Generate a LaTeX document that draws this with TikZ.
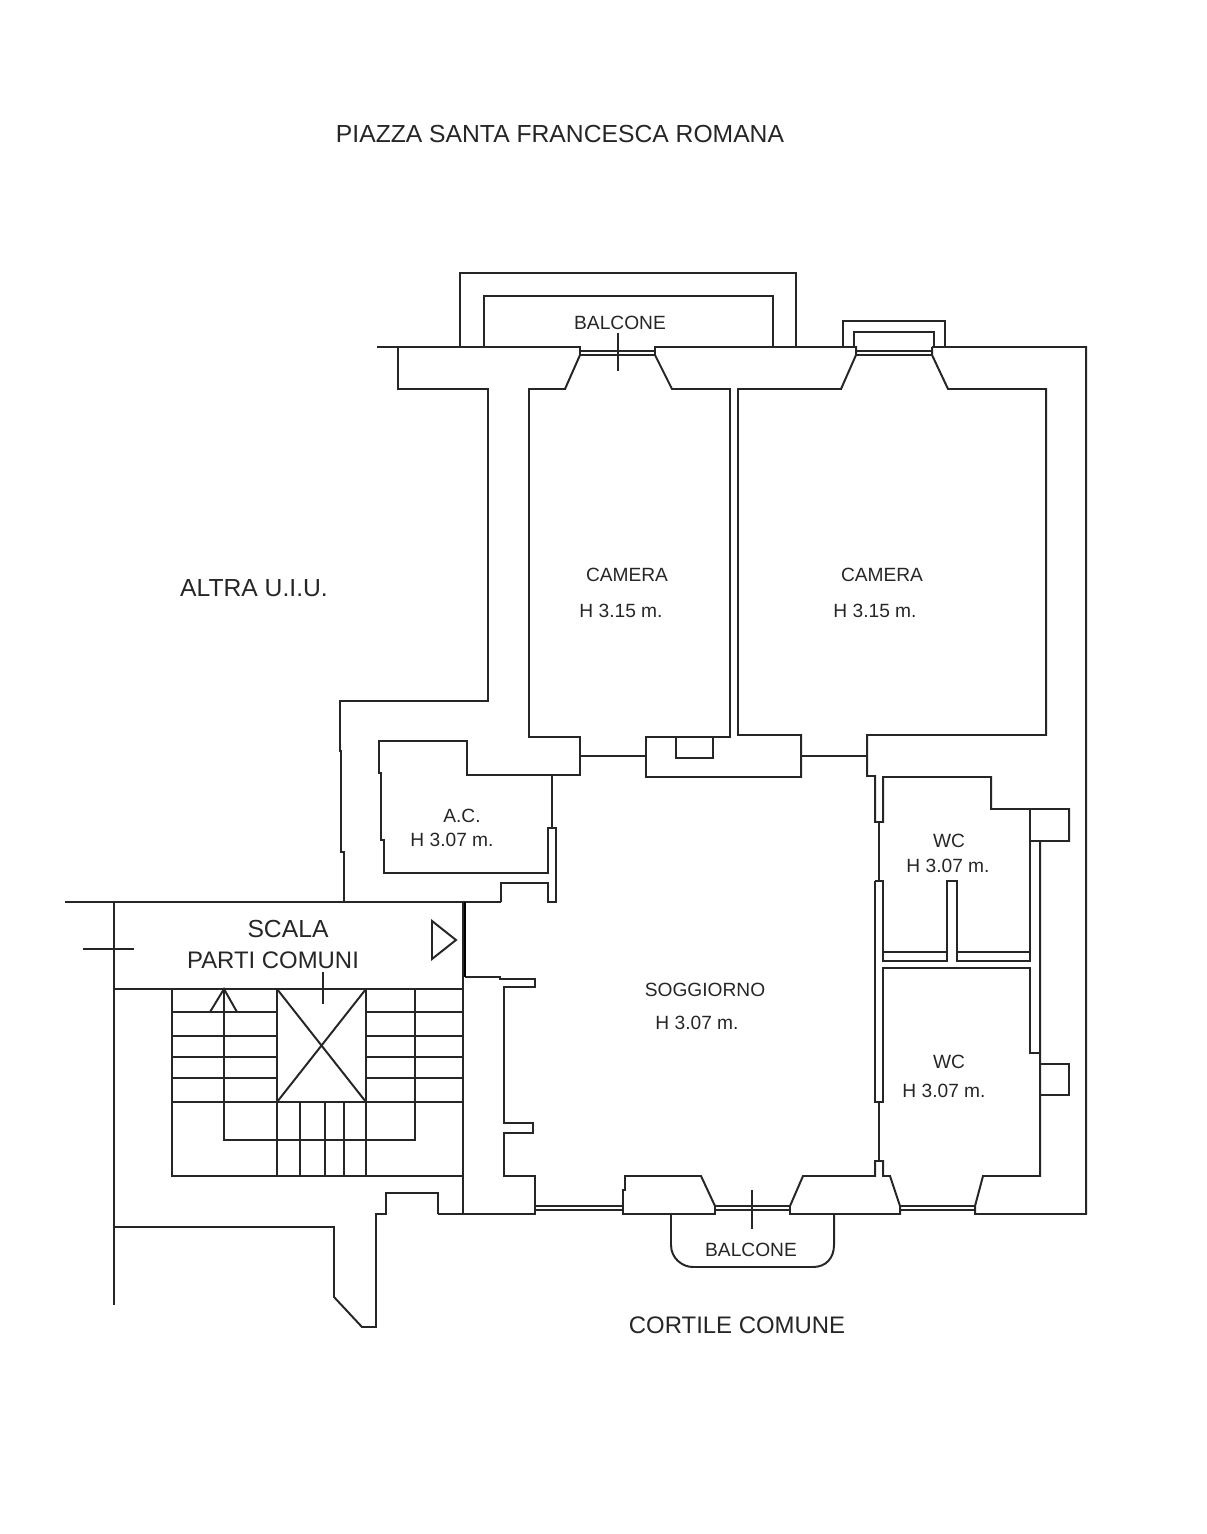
\documentclass[tikz,border=0pt]{standalone}
\usepackage{fontspec}
\setmainfont{Liberation Sans}
\tikzset{
    wall/.style={line width=0.56pt, color=black!85, line join=miter},
    bignote/.style={inner sep=0pt, color=black!85, font=\fontsize{7.02}{8}\selectfont},
    midnote/.style={inner sep=0pt, color=black!85, font=\fontsize{6.8}{8}\selectfont},
    smallnote/.style={inner sep=0pt, color=black!85, font=\fontsize{5.45}{7}\selectfont}
}
\begin{document}
\begin{tikzpicture}[x=0.01cm, y=-0.01cm]
    \useasboundingbox (0,0) rectangle (1206,1534);
    % facade and camera on the left
    \draw[wall] (377,347) -- (580,347) -- (580,355) -- (565,389) -- (529,389) -- (529,737) -- (580,737) -- (580,775) -- (467,775) -- (467,741) -- (379,741) -- (379,773) -- (381,773) -- (381,840) -- (384,840) -- (384,873) -- (548,873) -- (548,828) -- (556,828) -- (556,902) -- (548,902) -- (548,883) -- (501,883) -- (501,902);
    \draw[wall] (398,347) -- (398,389) -- (488,389) -- (488,701) -- (340,701) -- (340,751) -- (341,751) -- (341,852) -- (344,852) -- (344,902);
    \draw[wall] (655,347) -- (856,347) -- (856,355) -- (841,389) -- (738,389) -- (738,735) -- (801,735) -- (801,777) -- (646,777) -- (646,737) -- (730,737) -- (730,389) -- (672,389) -- (655,355) -- cycle; % camera on the right, wall between
    \draw[wall] (932,347) -- (932,355) -- (948,389) -- (1046,389) -- (1046,735) -- (867,735) -- (867,776) -- (875,776) -- (875,822) -- (883,822) -- (883,777) -- (991,777) -- (991,809) -- (1069,809) -- (1069,841) -- (1030,841);
    \draw[wall] (932,347) -- (1086,347) -- (1086,1214) -- (975,1214) -- (975,1206) -- (983,1176) -- (1040,1176) -- (1040,841); % outer wall
    \draw[wall] (676,737) -- (676,758) -- (713,758) -- (713,737); % niche
    \draw[wall] (580,756) -- (646,756); % door
    \draw[wall] (801,756) -- (867,756); % door
    \draw[wall] (552,775) -- (552,828);
    % windows
    \draw[wall] (580,351) -- (655,351) (580,355) -- (655,355);
    \draw[wall] (856,351) -- (932,351) (856,355) -- (932,355);
    \foreach \xa/\xb in {535/623, 715/790, 900/975}
        \draw[wall] (\xa,1206) -- (\xb,1206) (\xa,1210) -- (\xb,1210);
    % balconies
    \draw[wall] (460,347) -- (460,273) -- (796,273) -- (796,347);
    \draw[wall] (484,347) -- (484,296) -- (773,296) -- (773,347);
    \draw[wall] (843,347) -- (843,321) -- (945,321) -- (945,347);
    \draw[wall] (854,347) -- (854,332) -- (934,332) -- (934,347);
    \draw[wall] (618,333) -- (618,371);
    \draw[wall] (671,1214) -- (671,1245) .. controls (671,1258) and (682,1267) .. (693,1267) -- (813,1267) .. controls (826,1267) and (834,1258) .. (834,1245) -- (834,1214);
    \draw[wall] (752,1190) -- (752,1229);
    % wc
    \draw[wall] (879,822) -- (879,881);
    \draw[wall] (875,881) -- (883,881) -- (883,961) -- (947,961) -- (947,881) -- (957,881) -- (957,961) -- (1030,961) -- (1030,809);
    \draw[wall] (883,952) -- (947,952);
    \draw[wall] (957,952) -- (1030,952);
    \draw[wall] (875,881) -- (875,1102) -- (883,1102) -- (883,968) -- (1030,968) -- (1030,1053) -- (1040,1053);
    \draw[wall] (879,1102) -- (879,1161);
    \draw[wall] (790,1214) -- (790,1206) -- (803,1176) -- (875,1176) -- (875,1161) -- (883,1161) -- (883,1176) -- (890,1176) -- (900,1206) -- (900,1214) -- cycle;
    \draw[wall] (1040,1064) -- (1069,1064) -- (1069,1095) -- (1040,1095);
    % soggiorno
    \draw[wall] (465,977) -- (500,977) -- (500,979) -- (535,979) -- (535,987) -- (504,987) -- (504,1123) -- (533,1123) -- (533,1133) -- (504,1133) -- (504,1176) -- (535,1176) -- (535,1214) -- (438,1214);
    \draw[wall] (623,1214) -- (623,1190) -- (625,1190) -- (625,1176) -- (701,1176) -- (715,1206) -- (715,1214) -- cycle;
    % stairs
    \draw[wall] (65,902) -- (501,902);
    \draw[wall] (114,902) -- (114,1305);
    \draw[wall] (83,949) -- (134,949);
    \draw[line width=1pt, color=black] (464,902) -- (464,977);
    \draw[wall] (463,902) -- (463,1214);
    \draw[wall] (114,989) -- (463,989);
    \draw[wall] (172,989) -- (172,1176) -- (463,1176);
    \foreach \ystep in {1012, 1036, 1057, 1078, 1102} {
        \draw[wall] (172,\ystep) -- (277,\ystep);
        \draw[wall] (366,\ystep) -- (463,\ystep);
    }
    \draw[wall] (277,1102) -- (366,1102);
    \foreach \xstep in {277, 300, 325, 344, 366}
        \draw[wall] (\xstep,1102) -- (\xstep,1176);
    \draw[wall] (277,989) -- (277,1102) (366,989) -- (366,1102);
    \draw[wall] (277,989) -- (366,1102) (366,989) -- (277,1102);
    \draw[wall] (224,989) -- (224,1140) -- (415,1140) -- (415,989);
    \draw[wall] (210,1012) -- (224,989) -- (237,1012);
    \draw[wall] (323,972) -- (323,1004);
    \draw[wall] (432,921) -- (456,940) -- (432,959) -- cycle;
    \draw[wall] (114,1227) -- (334,1227) -- (334,1297) -- (362,1327) -- (376,1327) -- (376,1214) -- (386,1214) -- (386,1193) -- (438,1193) -- (438,1214);
    % labels
    \node[bignote] (piazza) at (560,134) {PIAZZA SANTA FRANCESCA ROMANA};
    \node[bignote] (altra) at (254,588) {ALTRA U.I.U.};
    \node[smallnote] (balconenord) at (620,323) {BALCONE};
    \node[smallnote] (camerauno) at (627,575) {CAMERA};
    \node[smallnote] (altezzauno) at (621,611) {H 3.15 m.};
    \node[smallnote] (cameradue) at (882,575) {CAMERA};
    \node[smallnote] (altezzadue) at (875,611) {H 3.15 m.};
    \node[smallnote] (ac) at (462,816) {A.C.};
    \node[smallnote] (altezzaac) at (452,840) {H 3.07 m.};
    \node[smallnote] (wcuno) at (949,841) {WC};
    \node[smallnote] (altezzawcuno) at (948,866) {H 3.07 m.};
    \node[smallnote] (wcdue) at (949,1062) {WC};
    \node[smallnote] (altezzawcdue) at (944,1091) {H 3.07 m.};
    \node[smallnote] (soggiorno) at (705,990) {SOGGIORNO};
    \node[smallnote] (altezzasoggiorno) at (697,1023) {H 3.07 m.};
    \node[bignote] (scala) at (288,929) {SCALA};
    \node[midnote] (parti) at (273,960) {PARTI COMUNI};
    \node[smallnote] (balconesud) at (751,1250) {BALCONE};
    \node[midnote] (cortile) at (737,1325) {CORTILE COMUNE};
\end{tikzpicture}
\end{document}
